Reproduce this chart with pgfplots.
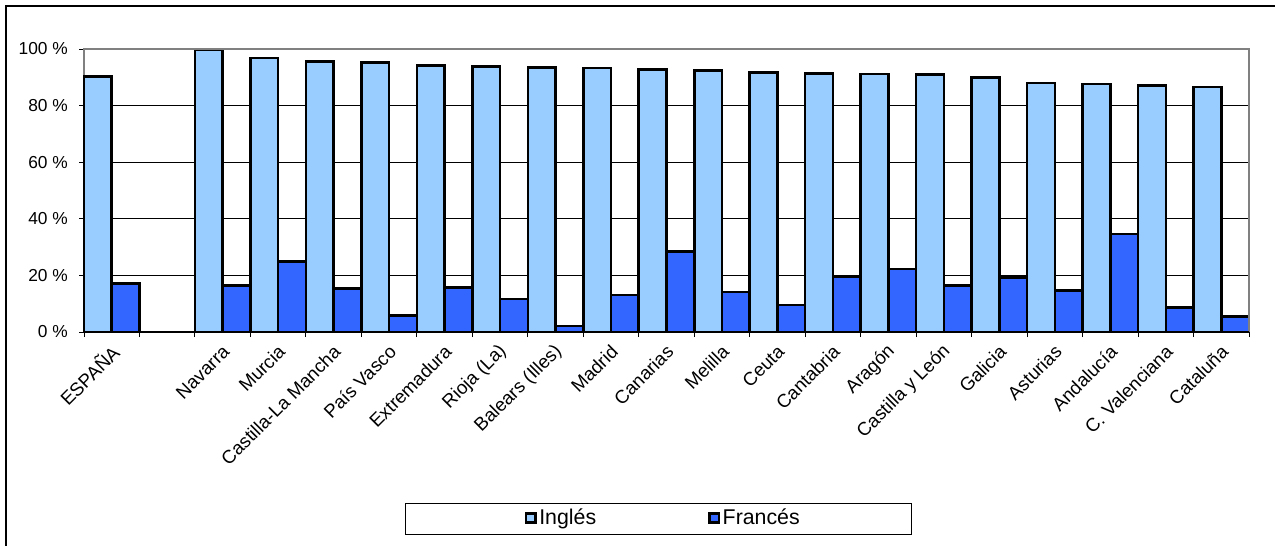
\documentclass[border=0pt]{standalone}
\usepackage{fontspec}
\setmainfont{Liberation Sans}
\usepackage{pgfplots}
\pgfplotsset{compat=1.18}
\definecolor{ingles}{HTML}{99CCFF}
\definecolor{frances}{HTML}{3366FF}
\definecolor{bordergray}{HTML}{808080}

\begin{document}
\fontsize{12.5}{15}\selectfont
% reference pixels: 1 px = 0.75pt, y downwards is negative
\begin{tikzpicture}
\useasboundingbox (0pt,0pt) rectangle (956.25pt,-409.5pt);
\draw[line width=1.1pt] (4.5pt,-409.5pt) -- (4.5pt,-4.5pt) -- (956.25pt,-4.5pt);

\begin{axis}[
  at={(63pt,-249pt)}, anchor=south west,
  scale only axis, width=873.75pt, height=212.25pt,
  ybar, bar width=0.5,
  xmin=-0.5, xmax=20.5, ymin=0, ymax=100,
  clip=false,
  axis line style={bordergray, line width=1.1pt},
  tick align=outside,
  xtick pos=bottom, ytick pos=left,
  xtick={0,2,3,...,20},
  xticklabels={ESPAÑA, Navarra, Murcia, Castilla-La Mancha, País Vasco,
    Extremadura, Rioja (La), Balears (Illes), Madrid, Canarias, Melilla,
    Ceuta, Cantabria, Aragón, Castilla y León, Galicia, Asturias,
    Andalucía, C. Valenciana, Cataluña},
  major x tick style={draw=none},
  minor xtick={-0.5,0.5,...,20.5},
  minor x tick style={black, line width=0.75pt},
  minor tick length=3.75pt,
  ytick={0,20,...,100},
  yticklabels={0 \%, 20 \%, 40 \%, 60 \%, 80 \%, 100 \%},
  major tick length=3.75pt,
  y tick style={black, line width=0.75pt},
  ymajorgrids, grid style={black, line width=0.75pt},
  xticklabel style={rotate=45, anchor=east, yshift=-8pt, font=\fontsize{14}{16}\selectfont},
  yticklabel style={xshift=-4pt, font=\fontsize{13}{15}\selectfont},
  legend style={at={(axis description cs:0.4975,-0.657)}, anchor=center,
    draw=none, fill=none, legend columns=2,
    font=\fontsize{16}{18}\selectfont,
    nodes={inner xsep=2pt},
    /tikz/every even column/.append style={column sep=82pt}},
  legend image code/.code={\draw[#1, line width=1.9pt] (0pt,-3.6pt) rectangle (7pt,3.4pt);},
]
\addplot[fill=ingles, draw=black, line width=1.9pt, bar shift=-0.25] coordinates {
  (0,90.3) (2,99.7) (3,96.8) (4,95.6) (5,95.3) (6,94.1) (7,93.9) (8,93.4)
  (9,93.3) (10,92.7) (11,92.4) (12,91.7) (13,91.4) (14,91.2) (15,90.9)
  (16,90.0) (17,88.0) (18,87.6) (19,87.1) (20,86.6)};
\addplot[fill=frances, draw=black, line width=1.9pt, bar shift=0.25] coordinates {
  (0,17.1) (2,16.4) (3,24.9) (4,15.4) (5,5.9) (6,15.7) (7,11.7) (8,2.2)
  (9,13.1) (10,28.5) (11,14.1) (12,9.6) (13,19.4) (14,22.3) (15,16.5)
  (16,19.3) (17,14.7) (18,34.7) (19,8.7) (20,5.4)};
\legend{Inglés, Francés}
\draw[bordergray, line width=1.1pt] (rel axis cs:0,1) -- (rel axis cs:1,1) -- (rel axis cs:1,0);
\draw[black, line width=1.1pt] (rel axis cs:0,0) -- (rel axis cs:1,0);
\end{axis}

\draw[black, line width=0.75pt] (303.75pt,-377.25pt) rectangle (683.25pt,-400.5pt);
\end{tikzpicture}
\end{document}
